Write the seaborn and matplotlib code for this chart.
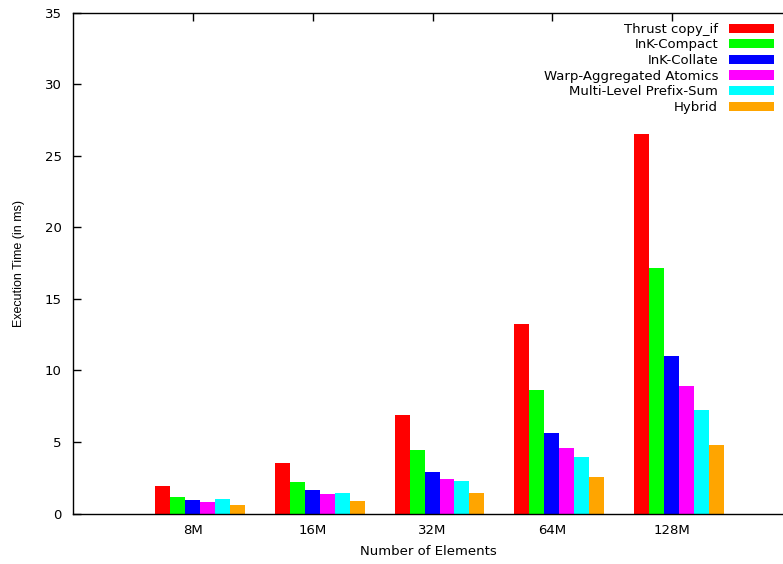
import matplotlib
matplotlib.use("Agg")
import matplotlib.pyplot as plt
import seaborn as sns
import pandas as pd

sizes = ["8M", "16M", "32M", "64M", "128M"]
impls = ["Thrust copy_if", "InK-Compact", "InK-Collate",
         "Warp-Aggregated Atomics", "Multi-Level Prefix-Sum", "Hybrid"]
colors = ["#ff0000", "#00ff00", "#0000ff", "#ff00ff", "#00ffff", "#ffa500"]

thrust = [1.95, 3.56, 6.88, 13.23, 26.5]
ink_compact = [1.14, 2.23, 4.44, 8.63, 17.15]
ink_collate = [0.98, 1.67, 2.90, 5.63, 11.0]
warp_atomics = [0.84, 1.39, 2.40, 4.58, 8.93]
prefix_sum = [1.00, 1.42, 2.26, 3.95, 7.25]
hybrid = [0.63, 0.91, 1.42, 2.55, 4.81]

series = [thrust, ink_compact, ink_collate, warp_atomics, prefix_sum, hybrid]
df = pd.DataFrame({
    "size": [s for _ in impls for s in sizes],
    "impl": [name for name in impls for _ in sizes],
    "time": [v for vals in series for v in vals],
})

sns.set_style("white")
plt.rcParams["font.family"] = ["DejaVu Sans"]
plt.rcParams["text.color"] = "black"
plt.rcParams["axes.labelcolor"] = "black"
plt.rcParams["xtick.color"] = "black"
plt.rcParams["ytick.color"] = "black"

fig = plt.figure(figsize=(7.83, 5.64), dpi=100)
ax = fig.add_axes([0.0929, 0.0892, 0.9081, 0.8886])

sns.barplot(data=df, x="size", y="time", hue="impl", order=sizes,
            hue_order=impls, palette=colors, width=0.75, saturation=1,
            linewidth=0, ax=ax)

ax.set_xlim(-1.063, 4.875)
ax.set_ylim(0, 35)
ax.set_yticks(range(0, 36, 5))
# gnuplot puts the tic label slightly left of the cluster centre
ax.set_xticks([i - 0.058 for i in range(len(sizes))])
ax.set_xticklabels(sizes)

for s in ax.spines.values():
    s.set_color("black")
    s.set_linewidth(1.0)
ax.spines["right"].set_visible(False)

ax.tick_params(axis="y", direction="in", length=6, width=1, labelsize=9.5,
               pad=8, left=True)
ax.tick_params(axis="x", direction="in", length=6, width=1, labelsize=9.5,
               pad=7.5, bottom=True, top=True)

ax.set_xlabel("Number of Elements", fontsize=9.5, labelpad=6)
ax.set_ylabel("Execution Time (in ms)", fontsize=9, labelpad=14,
              family="Liberation Sans")

ax.legend(loc="upper right", bbox_to_anchor=(0.993, 0.99),
          frameon=False, markerfirst=False, fontsize=9.5,
          handlelength=3.4, handleheight=0.7, labelspacing=0.2,
          handletextpad=0.8, borderaxespad=0)

fig.savefig("out.png", dpi=100)
